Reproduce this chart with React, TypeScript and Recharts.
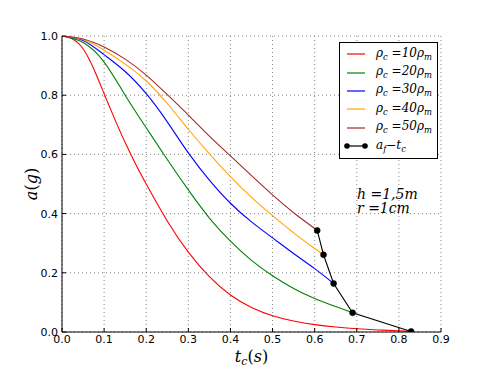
import React from 'react';
import { LineChart, Line, XAxis, YAxis, CartesianGrid, Legend, Label } from 'recharts';

const xTicks = [0, 0.1, 0.2, 0.3, 0.4, 0.5, 0.6, 0.7, 0.8, 0.9];
const yTicks = [0, 0.2, 0.4, 0.6, 0.8, 1.0];

const tRed = [0, 0.025, 0.05, 0.075, 0.1, 0.125, 0.15, 0.175, 0.2, 0.25, 0.3, 0.35, 0.4, 0.45, 0.5, 0.55, 0.6, 0.65, 0.7, 0.75, 0.8, 0.829];
const aRed = [1, 0.99, 0.957, 0.89, 0.805, 0.72, 0.64, 0.567, 0.5, 0.375, 0.27, 0.187, 0.125, 0.083, 0.055, 0.037, 0.025, 0.017, 0.011, 0.007, 0.004, 0.002];

const tGreen = [0, 0.05, 0.1, 0.15, 0.2, 0.25, 0.3, 0.35, 0.4, 0.45, 0.5, 0.55, 0.6, 0.65, 0.69];
const aGreen = [1, 0.978, 0.912, 0.8, 0.69, 0.583, 0.48, 0.385, 0.307, 0.242, 0.19, 0.147, 0.113, 0.086, 0.065];

const tBlue = [0, 0.05, 0.1, 0.15, 0.2, 0.25, 0.3, 0.35, 0.4, 0.45, 0.5, 0.55, 0.6, 0.645];
const aBlue = [1, 0.985, 0.937, 0.88, 0.805, 0.71, 0.605, 0.513, 0.435, 0.372, 0.318, 0.265, 0.214, 0.164];

const tOrange = [0, 0.05, 0.1, 0.15, 0.2, 0.25, 0.3, 0.35, 0.4, 0.45, 0.5, 0.55, 0.6, 0.621];
const aOrange = [1, 0.988, 0.952, 0.905, 0.848, 0.772, 0.685, 0.602, 0.525, 0.455, 0.393, 0.335, 0.282, 0.261];

const tBrown = [0, 0.05, 0.1, 0.15, 0.2, 0.25, 0.3, 0.35, 0.4, 0.45, 0.5, 0.55, 0.6, 0.606];
const aBrown = [1, 0.99, 0.963, 0.922, 0.868, 0.802, 0.733, 0.662, 0.595, 0.528, 0.463, 0.403, 0.35, 0.343];

const tFinal = [0.606, 0.621, 0.645, 0.69, 0.829];
const aFinal = [0.343, 0.261, 0.164, 0.065, 0.002];

const seriesNames = ['ρ_c =10ρ_m', 'ρ_c =20ρ_m', 'ρ_c =30ρ_m', 'ρ_c =40ρ_m', 'ρ_c =50ρ_m', 'a_f−t_c'];
const seriesColors = ['#ff0000', '#008000', '#0000ff', '#ffa500', '#a52a2a', '#000000'];

const toData = (ts: number[], as: number[]) => ts.map((t, i) => ({ t, a: as[i] }));

const series = [
  toData(tRed, aRed),
  toData(tGreen, aGreen),
  toData(tBlue, aBlue),
  toData(tOrange, aOrange),
  toData(tBrown, aBrown),
];
const finalData = toData(tFinal, aFinal);

const mathFont = "'DejaVu Serif', serif";
const tickFont = { fill: '#000', fontSize: 11, fontFamily: "'DejaVu Sans', sans-serif" };

function renderMathHtml(s: string) {
  const parts = s.split(/_(\w)/);
  return parts.map((p, i) =>
    i % 2 === 1 ? (
      <sub key={i} style={{ fontSize: '0.7em', verticalAlign: '-0.3em', lineHeight: 0 }}>{p}</sub>
    ) : (
      <span key={i}>{p}</span>
    )
  );
}

function LegendContent(props: any) {
  const payload = [...(props.payload || [])].sort(
    (a: any, b: any) => seriesNames.indexOf(a.value) - seriesNames.indexOf(b.value)
  );
  return (
    <div
      style={{
        border: '1px solid #000',
        background: '#fff',
        width: 97,
        height: 113,
        boxSizing: 'content-box',
        paddingTop: 2,
      }}
    >
      {payload.map((entry: any, i: number) => {
        const isFinal = entry.value === seriesNames[5];
        return (
          <div key={i} style={{ display: 'flex', alignItems: 'center', height: 18.4 }}>
            <svg width={36} height={12} style={{ flex: 'none' }}>
              <line x1={7} y1={6} x2={25} y2={6} stroke={entry.color} strokeWidth={1.2} />
              {isFinal && <circle cx={7} cy={6} r={2.8} fill="#000" />}
              {isFinal && <circle cx={25} cy={6} r={2.8} fill="#000" />}
            </svg>
            <span
              style={{
                fontFamily: mathFont,
                fontStyle: 'italic',
                fontSize: 12,
                color: '#000',
                whiteSpace: 'nowrap',
                marginTop: -3,
              }}
            >
              {renderMathHtml(entry.value)}
            </span>
          </div>
        );
      })}
    </div>
  );
}

function XLabel(props: any) {
  const vb = props.viewBox || {};
  const cx = vb.x + vb.width / 2;
  const y = vb.y + 30;
  return (
    <text x={cx} y={y} textAnchor="middle" fontFamily={mathFont} fontSize={16} fill="#000">
      <tspan fontStyle="italic">t</tspan>
      <tspan fontStyle="italic" fontSize={11} dy={3}>c</tspan>
      <tspan dy={-3}>(</tspan>
      <tspan fontStyle="italic">s</tspan>
      <tspan>)</tspan>
    </text>
  );
}

function YLabel(props: any) {
  const vb = props.viewBox || {};
  const cy = vb.y + vb.height / 2;
  const x = 37;
  return (
    <text
      x={x}
      y={cy}
      textAnchor="middle"
      transform={`rotate(-90, ${x}, ${cy})`}
      fontFamily={mathFont}
      fontSize={16}
      fill="#000"
    >
      <tspan fontStyle="italic">a</tspan>
      <tspan>(</tspan>
      <tspan fontStyle="italic">g</tspan>
      <tspan>)</tspan>
    </text>
  );
}

export default function App() {
  return (
    <div style={{ position: 'absolute', left: 0, top: 0, width: 491, height: 370, background: '#fff' }}>
      <LineChart width={491} height={370} margin={{ top: 36, right: 50, bottom: 0, left: 22 }}>
        <CartesianGrid stroke="#666" strokeDasharray="1 3" strokeWidth={0.8} />
        <XAxis
          xAxisId={0}
          type="number"
          dataKey="t"
          domain={[0, 0.9]}
          ticks={xTicks}
          allowDataOverflow
          height={38}
          tickSize={-4}
          tickMargin={7}
          tickFormatter={(v: number) => v.toFixed(1)}
          stroke="#000"
          tick={tickFont}
          interval={0}
        >
          <Label content={XLabel} />
        </XAxis>
        <XAxis
          xAxisId="top"
          orientation="top"
          type="number"
          dataKey="t"
          domain={[0, 0.9]}
          ticks={xTicks}
          allowDataOverflow
          height={0}
          tickSize={-4}
          tickFormatter={() => ''}
          stroke="#000"
          interval={0}
        />
        <YAxis
          yAxisId={0}
          type="number"
          domain={[0, 1]}
          ticks={yTicks}
          allowDataOverflow
          width={40}
          tickSize={-4}
          tickMargin={8}
          tickFormatter={(v: number) => v.toFixed(1)}
          stroke="#000"
          tick={tickFont}
          interval={0}
        >
          <Label content={YLabel} />
        </YAxis>
        <YAxis
          yAxisId="right"
          orientation="right"
          type="number"
          domain={[0, 1]}
          ticks={yTicks}
          allowDataOverflow
          width={0}
          tickSize={-4}
          tickFormatter={() => ''}
          stroke="#000"
          interval={0}
        />
        {series.map((d, i) => (
          <Line
            key={i}
            data={d}
            dataKey="a"
            name={seriesNames[i]}
            stroke={seriesColors[i]}
            strokeWidth={1.1}
            type="natural"
            dot={false}
            isAnimationActive={false}
          />
        ))}
        <Line
          data={finalData}
          dataKey="a"
          name={seriesNames[5]}
          stroke={seriesColors[5]}
          strokeWidth={1.1}
          type="linear"
          dot={{ r: 3, fill: '#000', stroke: '#000', strokeWidth: 0.5 }}
          isAnimationActive={false}
        />
        <Legend
          layout="vertical"
          align="center"
          verticalAlign="middle"
          itemSorter={null as any}
          content={LegendContent}
          wrapperStyle={{ position: 'absolute', left: 339, top: 42, width: 99, height: 116 }}
        />
      </LineChart>
      <div
        style={{
          position: 'absolute',
          left: 357,
          top: 188,
          fontFamily: mathFont,
          fontStyle: 'italic',
          fontSize: 14,
          lineHeight: '13.5px',
          color: '#000',
          whiteSpace: 'nowrap',
        }}
      >
        <div>h =1,5m</div>
        <div>r =1cm</div>
      </div>
    </div>
  );
}
